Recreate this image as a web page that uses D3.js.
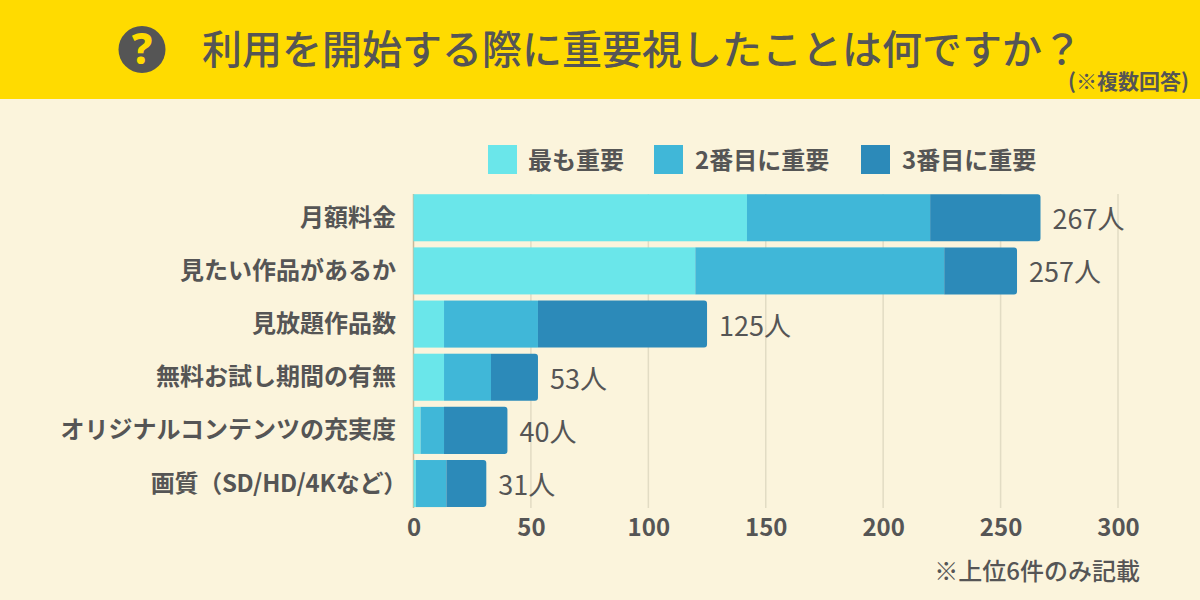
<!DOCTYPE html>
<html><head><meta charset="utf-8">
<script src="https://cdn.jsdelivr.net/npm/d3@7"></script>
<style>html,body{margin:0;padding:0;background:#fbf4dc}svg{display:block}text{font-family:"Noto Sans CJK JP","Noto Sans",sans-serif;fill:#555}</style>
</head><body><svg id="c" width="1200" height="600"></svg>
<script>
const categories=["月額料金","見たい作品があるか","見放題作品数","無料お試し期間の有無","オリジナルコンテンツの充実度","画質（SD/HD/4Kなど）"];
const seriesNames=["最も重要","2番目に重要","3番目に重要"];
const first=[142,120,13,13,3,1];
const second=[78,106,40,20,10,13];
const third=[47,31,72,20,27,17];
const totals=[267,257,125,53,40,31];
const ticks=[0,50,100,150,200,250,300];
const colors=["#6ae6ea","#40b7d8","#2c8ab9"];
const titleText="利用を開始する際に重要視したことは何ですか？";
const subText="(※複数回答)";
const noteText="※上位6件のみ記載";

const svg=d3.select("#c");
svg.append("rect").attr("width",1200).attr("height",600).attr("fill","#fbf4dc");
svg.append("rect").attr("width",1200).attr("height",99).attr("fill","#ffdb00");
svg.append("circle").attr("cx",142).attr("cy",49.5).attr("r",23.5).attr("fill","#555");
svg.append("text").attr("x",142).attr("y",64).attr("text-anchor","middle").attr("font-size",42).attr("font-weight",800).style("fill","#ffdb00").style("font-family","'Noto Sans',sans-serif").text("?");
svg.append("text").attr("x",202).attr("y",64).attr("font-size",40).attr("font-weight",500).text(titleText);
svg.append("text").attr("x",1189).attr("y",89).attr("text-anchor","end").attr("font-size",21).attr("font-weight",700).text(subText);

const x=d3.scaleLinear().domain([0,300]).range([413.5,1118]);
const y=d3.scaleBand().domain(categories).range([191.3,510]).paddingInner(0.115).paddingOuter(0.055);

svg.append("g").selectAll("line").data(ticks).join("line")
  .attr("x1",d=>x(d)).attr("x2",d=>x(d)).attr("y1",194).attr("y2",508)
  .attr("stroke",(d,i)=>i?"#e2dcc4":"#c9b898").attr("stroke-width",1.5);

const axis=d3.axisBottom(x).tickValues(ticks).tickSize(0).tickPadding(0);
const ag=svg.append("g").attr("transform","translate(0,513.5)").call(axis);
ag.select(".domain").remove();
ag.selectAll("text").attr("font-size",24).attr("font-weight",700).attr("dy","0.95em").style("font-family","'Noto Sans CJK JP'");

const stack=d3.stack().keys([0,1,2]).value((d,k)=>d[k])(categories.map((c,i)=>[first[i],second[i],third[i]]));
stack.forEach((s,k)=>{
  const g=svg.append("g");
  s.forEach((d,i)=>{
    const x0=x(d[0]),x1=x(d[1]),yy=y(categories[i]),h=y.bandwidth();
    if(k===2){
      const p=d3.path(),r=3;
      p.moveTo(x0,yy);p.lineTo(x1-r,yy);p.arcTo(x1,yy,x1,yy+r,r);p.lineTo(x1,yy+h-r);p.arcTo(x1,yy+h,x1-r,yy+h,r);p.lineTo(x0,yy+h);p.closePath();
      g.append("path").attr("d",p.toString()).attr("fill",colors[k]);
    } else {
      g.append("rect").attr("x",x0).attr("y",yy).attr("width",x1-x0).attr("height",h).attr("fill",colors[k]);
    }
  });
});

svg.append("g").selectAll("text").data(categories).join("text")
  .attr("x",d=>d.endsWith("）")?407:396).attr("y",d=>y(d)+y.bandwidth()/2+8).attr("text-anchor","end")
  .attr("letter-spacing",d=>d.endsWith("）")?-0.25:null)
  .attr("font-size",24).attr("font-weight",700).text(d=>d);

svg.append("g").selectAll("text").data(totals).join("text")
  .attr("x",d=>x(d)+12).attr("y",(d,i)=>y(categories[i])+y.bandwidth()/2+11.5)
  .attr("font-size",27).attr("font-weight",400).text(d=>d+"人");

const lx=[488,654,861];
seriesNames.forEach((n,i)=>{
  svg.append("rect").attr("x",lx[i]).attr("y",145).attr("width",29).attr("height",29).attr("fill",colors[i]);
  svg.append("text").attr("x",lx[i]+(i?41:40)).attr("y",169).attr("font-size",24).attr("font-weight",700).text(n);
});
svg.append("text").attr("x",1140).attr("y",580).attr("text-anchor","end").attr("font-size",24).attr("font-weight",500).text(noteText);
</script></body></html>
